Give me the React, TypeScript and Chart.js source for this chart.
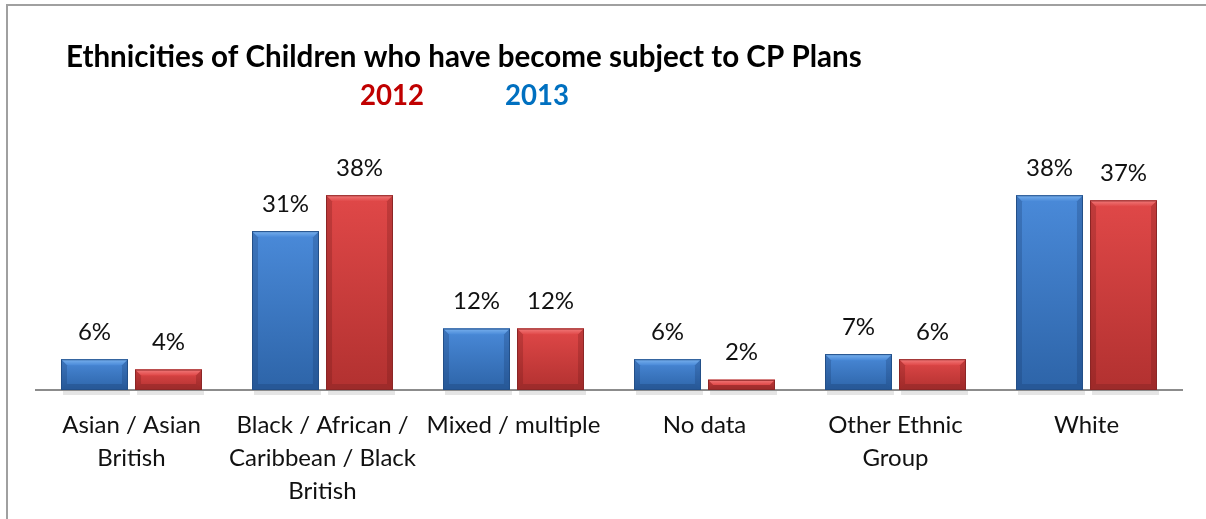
import React, { useEffect, useRef } from "react";
import { Chart, registerables } from "chart.js";

Chart.register(...registerables);

const categories: (string | string[])[] = [
  ["Asian / Asian", "British"],
  ["Black / African /", "Caribbean / Black", "British"],
  "Mixed / multiple",
  "No data",
  ["Other Ethnic", "Group"],
  "White",
];
const values2013 = [6, 31, 12, 6, 7, 38];
const values2012 = [4, 38, 12, 2, 6, 37];
const titleText = "Ethnicities of Children who have become subject to CP Plans";
const year2012 = "2012";
const year2013 = "2013";

const FONT = "Lato, 'Open Sans', sans-serif";

const seriesStyle = [
  { fill: "#3b7bcb", top: "#4a8ad9", bottom: "#2d64a8", light: "#7ab2ee", dark: "#234f88", side: "rgba(20,50,100,0.25)" },
  { fill: "#d94343", top: "#e04848", bottom: "#b23130", light: "#f27c7c", dark: "#8c2626", side: "rgba(100,20,20,0.25)" },
];

function fitFont(ctx: any, text: string, weight: string, target: number) {
  ctx.font = `${weight} 20px ${FONT}`;
  const w = ctx.measureText(text).width;
  const size = (20 * target) / w;
  return `${weight} ${size.toFixed(2)}px ${FONT}`;
}

const bevelPlugin = {
  id: "bevel",
  afterDatasetsDraw(chart: any) {
    const ctx = chart.ctx;
    chart.data.datasets.forEach((ds: any, di: number) => {
      const meta = chart.getDatasetMeta(di);
      const st = seriesStyle[di];
      meta.data.forEach((el: any, i: number) => {
        const p = el.getProps(["x", "y", "base", "width"], true);
        const l = p.x - p.width / 2;
        const r = p.x + p.width / 2;
        const t = p.y;
        const b = p.base;
        const h = b - t;
        const bv = Math.min(6, h / 2);
        ctx.save();
        // shadow under bar
        ctx.fillStyle = "rgba(0,0,0,0.10)";
        ctx.fillRect(l + 2, b + 1, p.width, 4);
        // body gradient
        const g = ctx.createLinearGradient(0, t, 0, b);
        g.addColorStop(0, st.top);
        g.addColorStop(1, st.bottom);
        ctx.fillStyle = g;
        ctx.fillRect(l, t, p.width, h);
        // top bevel
        const gt = ctx.createLinearGradient(0, t, 0, t + bv);
        gt.addColorStop(0, st.light);
        gt.addColorStop(1, st.top);
        ctx.fillStyle = gt;
        ctx.beginPath();
        ctx.moveTo(l, t);
        ctx.lineTo(r, t);
        ctx.lineTo(r - bv, t + bv);
        ctx.lineTo(l + bv, t + bv);
        ctx.closePath();
        ctx.fill();
        // bottom bevel
        ctx.fillStyle = st.dark;
        ctx.globalAlpha = 0.55;
        ctx.beginPath();
        ctx.moveTo(l, b);
        ctx.lineTo(r, b);
        ctx.lineTo(r - bv, b - bv);
        ctx.lineTo(l + bv, b - bv);
        ctx.closePath();
        ctx.fill();
        ctx.globalAlpha = 1;
        // sides
        ctx.fillStyle = st.side;
        ctx.beginPath();
        ctx.moveTo(l, t);
        ctx.lineTo(l + bv, t + bv);
        ctx.lineTo(l + bv, b - bv);
        ctx.lineTo(l, b);
        ctx.closePath();
        ctx.fill();
        ctx.beginPath();
        ctx.moveTo(r, t);
        ctx.lineTo(r - bv, t + bv);
        ctx.lineTo(r - bv, b - bv);
        ctx.lineTo(r, b);
        ctx.closePath();
        ctx.fill();
        // outline
        ctx.strokeStyle = st.dark;
        ctx.lineWidth = 1;
        ctx.strokeRect(l + 0.5, t + 0.5, p.width - 1, h - 1);
        // value label
        ctx.fillStyle = "#111";
        ctx.font = `24px ${FONT}`;
        ctx.textAlign = "center";
        ctx.textBaseline = "middle";
        ctx.fillText(`${ds.data[i]}%`, p.x, t - 27);
        ctx.restore();
      });
    });
  },
  afterDraw(chart: any) {
    const ctx = chart.ctx;
    ctx.save();
    ctx.textBaseline = "middle";
    ctx.textAlign = "left";
    ctx.fillStyle = "#000";
    ctx.font = fitFont(ctx, titleText, "bold", 796);
    ctx.fillText(titleText, 66, 57);
    ctx.font = fitFont(ctx, year2012, "bold", 64);
    ctx.fillStyle = "#c00000";
    ctx.fillText(year2012, 360, 96);
    ctx.fillStyle = "#0070c0";
    ctx.fillText(year2013, 505, 96);
    ctx.restore();
  },
};

export default function App() {
  const ref = useRef<HTMLCanvasElement>(null);
  useEffect(() => {
    if (!ref.current) return;
    const chart = new Chart(ref.current, {
      type: "bar",
      data: {
        labels: categories,
        datasets: [
          {
            label: year2013,
            data: values2013,
            backgroundColor: seriesStyle[0].fill,
            categoryPercentage: 0.775,
            barPercentage: 0.905,
          },
          {
            label: year2012,
            data: values2012,
            backgroundColor: seriesStyle[1].fill,
            categoryPercentage: 0.775,
            barPercentage: 0.905,
          },
        ],
      },
      options: {
        responsive: false,
        animation: false,
        devicePixelRatio: 1,
        layout: { padding: { left: 36, right: 24, top: 185, bottom: -8 } },
        plugins: {
          legend: { display: false },
          title: { display: false },
          tooltip: { enabled: false },
        },
        scales: {
          x: {
            grid: { display: false, drawTicks: false },
            border: { display: true, color: "#8c8c8c", width: 2 },
            ticks: {
              color: "#111",
              padding: 19,
              maxRotation: 0,
              autoSkip: false,
              font: { family: FONT, size: 24, lineHeight: 1.375 },
            },
          },
          y: {
            display: false,
            min: 0,
            max: 40,
          },
        },
      },
      plugins: [bevelPlugin],
    });
    return () => chart.destroy();
  }, []);
  return (
    <div
      style={{
        position: "fixed",
        left: 0,
        top: 0,
        width: 1206,
        height: 519,
        background: "#fff",
        overflow: "hidden",
      }}
    >
      <div
        style={{
          position: "absolute",
          left: 6,
          top: 4,
          width: 1400,
          height: 700,
          border: "2px solid #a0a0a0",
        }}
      />
      <canvas
        ref={ref}
        width={1206}
        height={519}
        style={{ position: "absolute", left: 0, top: 0 }}
      />
    </div>
  );
}
